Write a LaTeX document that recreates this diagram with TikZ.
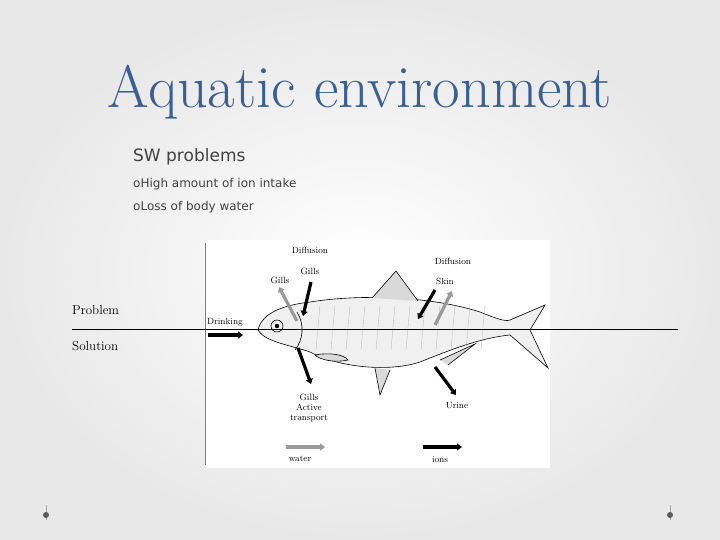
\documentclass[tikz,border=0pt]{standalone}
\usepackage{fontspec}
\setsansfont{DejaVu Sans}
\usetikzlibrary{arrows.meta,shapes.arrows}
\definecolor{titleblue}{HTML}{3A5F95}
\definecolor{txtgray}{HTML}{404040}
\tikzset{
 lbl/.style={font=\fontsize{9}{10}\selectfont, inner sep=0pt, align=center},
 blk/.style={-{Triangle[length=5pt,width=7pt]}, line width=3.2pt, black},
 gry/.style={-{Triangle[length=5pt,width=7pt]}, line width=3.2pt, gray!80},
 fishline/.style={black, line width=0.6pt},
}
\begin{document}
\begin{tikzpicture}[x=1pt,y=-1pt]
\path[use as bounding box] (0,0) rectangle (720,540);
\shade[inner color=white, outer color=gray!18] (0,0) rectangle (720,540);
\node (title) at (360,92) {\fontsize{60}{64}\selectfont\color{titleblue} Aquatic environment};
\node[anchor=west, inner sep=0pt] (sw) at (133,157) {\sffamily\fontsize{17}{19}\selectfont\color{txtgray} SW problems};
\node[anchor=west, inner sep=0pt] (b1) at (133,184) {\sffamily\fontsize{12}{14}\selectfont\color{txtgray} o{}High amount of ion intake};
\node[anchor=west, inner sep=0pt] (b2) at (133,207) {\sffamily\fontsize{12}{14}\selectfont\color{txtgray} o{}Loss of body water};
\fill[white] (205,240) rectangle (550,468);
\draw[line width=0.5pt, gray] (205,243) -- (205,465);
% fish
\draw[fishline, fill=gray!12] (258,330) .. controls (262,312) and (285,305) .. (310,302)
 .. controls (360,294) and (430,296) .. (480,312) .. controls (495,318) and (505,322) .. (510,320)
 -- (545,305) -- (530,330) -- (548,368) -- (510,335)
 .. controls (480,338) and (450,350) .. (420,362) .. controls (390,372) and (340,368) .. (310,352)
 .. controls (290,345) and (265,342) .. (258,330) -- cycle;
\foreach \x in {320,335,...,490} \draw[gray!60, line width=0.3pt] (\x,305) -- (\x-4,350);
\draw[fishline, fill=gray!30] (372,298) -- (396,271) -- (418,301);
\draw[fishline, fill=gray!30] (375,368) -- (380,395) -- (390,370);
\draw[fishline, fill=gray!30] (440,360) -- (475,344) -- (448,365);
\draw[fishline, fill=gray!30] (315,355) .. controls (330,352) and (345,355) .. (348,360) .. controls (335,363) and (320,360) .. (315,355);
\draw[fishline] (277,326) circle (6);
\fill (277,326) circle (2.2);
\draw[fishline] (297,312) .. controls (305,325) and (303,340) .. (295,350);
% arrows
\coordinate (dr1) at (208,335); \coordinate (dr2) at (243,335);
\draw[blk] (dr1) -- (dr2);
\node[lbl] (drink) at (225,322) {Drinking};
\coordinate (g1a) at (297,321); \coordinate (g1b) at (279,287);
\draw[gry] (g1a) -- (g1b);
\coordinate (g2a) at (311,282); \coordinate (g2b) at (303,316);
\draw[blk] (g2a) -- (g2b);
\node[lbl] (dif1) at (310,250) {Diffusion};
\node[lbl] (gil1) at (310,271) {Gills};
\node[lbl] (gil2) at (280,280) {Gills};
\coordinate (s1a) at (435,290); \coordinate (s1b) at (418,319);
\draw[blk] (s1a) -- (s1b);
\coordinate (s2a) at (435,325); \coordinate (s2b) at (452,291);
\draw[gry] (s2a) -- (s2b);
\node[lbl] (dif2) at (453,261) {Diffusion};
\node[lbl] (skin) at (445,281) {Skin};
\coordinate (at1) at (298,348); \coordinate (at2) at (311,384);
\draw[blk] (at1) -- (at2);
\node[lbl] (act) at (309,408) {Gills\\Active\\transport};
\coordinate (u1) at (435,367); \coordinate (u2) at (456,395);
\draw[blk] (u1) -- (u2);
\node[lbl] (urine) at (457,406) {Urine};
\coordinate (w1) at (286,447); \coordinate (w2) at (325,447);
\draw[gry] (w1) -- (w2);
\node[lbl] (water) at (300,459) {water};
\coordinate (i1) at (423,447); \coordinate (i2) at (462,447);
\draw[blk] (i1) -- (i2);
\node[lbl] (ions) at (440,460) {ions};
% problem/solution
\coordinate (l1) at (72,329); \coordinate (l2) at (678,329);
\draw[line width=0.6pt] (l1) -- (l2);
\node[anchor=west, inner sep=0pt] (prob) at (72,310) {\fontsize{13}{15}\selectfont Problem};
\node[anchor=west, inner sep=0pt] (sol) at (72,346) {\fontsize{13}{15}\selectfont Solution};
% corner bullets
\draw[gray!70, line width=1pt] (46,505) -- (46,520);
\fill[gray!70!black] (46,515) circle (3);
\draw[gray!70, line width=1pt] (670,505) -- (670,520);
\fill[gray!70!black] (670,515) circle (3);
\end{tikzpicture}
\end{document}
